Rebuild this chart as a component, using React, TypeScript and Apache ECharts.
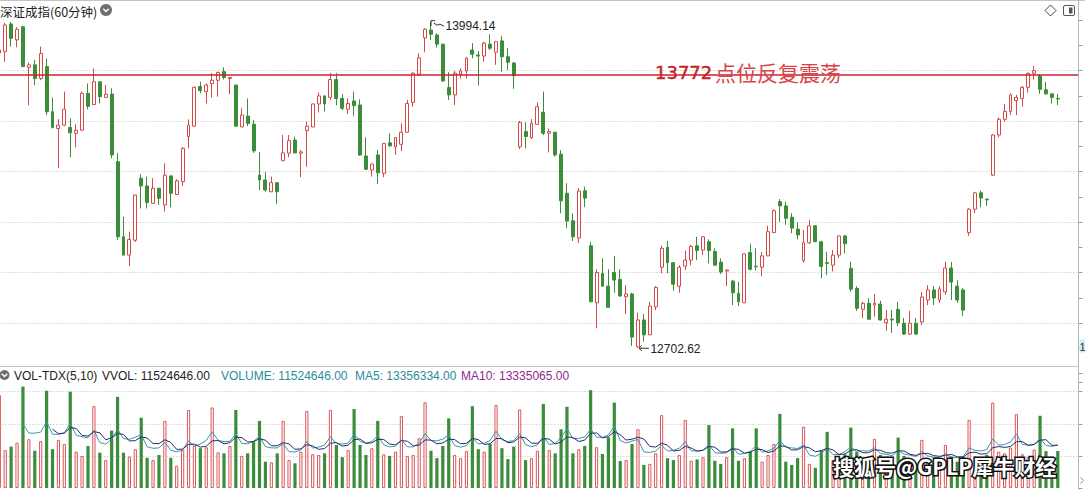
import { useEffect, useRef } from 'react';
import * as echarts from 'echarts';

// [open, close, low, high] per 60-minute bar
const ohlc: number[][] = [
  [13870, 13882, 13862, 13890], [13875, 13981, 13835, 13989], [13985, 13928, 13895, 13993], [13922, 13964, 13893, 13972],
  [13974, 13816, 13815, 13977], [13813, 13823, 13663, 13832], [13823, 13769, 13743, 13842], [13769, 13868, 13762, 13895],
  [13816, 13637, 13624, 13848], [13637, 13575, 13571, 13693], [13571, 13584, 13413, 13608], [13584, 13647, 13580, 13717],
  [13575, 13554, 13457, 13611], [13552, 13564, 13496, 13588], [13564, 13710, 13562, 13717], [13710, 13659, 13647, 13749],
  [13666, 13756, 13663, 13809], [13756, 13697, 13670, 13757], [13694, 13707, 13693, 13743], [13707, 13466, 13453, 13730],
  [13439, 13142, 13128, 13473], [13142, 13069, 13068, 13221], [13069, 13131, 13025, 13162], [13128, 13307, 13121, 13308],
  [13374, 13343, 13254, 13390], [13343, 13277, 13254, 13380], [13274, 13334, 13273, 13374], [13334, 13294, 13268, 13335],
  [13268, 13386, 13241, 13433], [13383, 13314, 13258, 13384], [13309, 13363, 13308, 13370], [13360, 13492, 13343, 13498],
  [13539, 13584, 13492, 13607], [13580, 13734, 13579, 13737], [13737, 13721, 13710, 13756], [13717, 13743, 13670, 13749],
  [13749, 13762, 13694, 13790], [13762, 13793, 13697, 13796], [13796, 13773, 13765, 13813], [13769, 13773, 13707, 13775],
  [13743, 13580, 13579, 13744], [13577, 13624, 13576, 13651], [13620, 13591, 13580, 13690], [13588, 13482, 13474, 13604],
  [13386, 13367, 13327, 13478], [13367, 13327, 13320, 13399], [13320, 13356, 13319, 13380], [13356, 13320, 13272, 13357],
  [13443, 13474, 13442, 13545], [13473, 13523, 13457, 13545], [13525, 13474, 13473, 13539], [13473, 13478, 13378, 13485],
  [13562, 13580, 13419, 13598], [13577, 13668, 13576, 13669], [13668, 13700, 13634, 13713], [13700, 13668, 13638, 13701],
  [13694, 13765, 13684, 13790], [13765, 13690, 13663, 13790], [13690, 13651, 13644, 13707], [13647, 13670, 13628, 13690],
  [13680, 13661, 13621, 13717], [13664, 13466, 13462, 13686], [13462, 13409, 13406, 13536], [13406, 13430, 13380, 13431],
  [13466, 13395, 13351, 13485], [13393, 13512, 13378, 13513], [13514, 13502, 13498, 13552], [13498, 13535, 13466, 13537],
  [13508, 13556, 13481, 13591], [13556, 13670, 13555, 13684], [13674, 13790, 13657, 13794], [13786, 13851, 13780, 13869],
  [13930, 13964, 13873, 13968], [13961, 13944, 13921, 13994.14], [13941, 13905, 13891, 13948], [13905, 13759, 13756, 13906],
  [13733, 13704, 13684, 13794], [13704, 13790, 13664, 13799], [13786, 13799, 13769, 13810], [13799, 13849, 13769, 13855],
  [13882, 13865, 13849, 13909], [13862, 13858, 13741, 13878], [13858, 13909, 13835, 13915], [13905, 13889, 13882, 13944],
  [13873, 13915, 13823, 13918], [13918, 13855, 13796, 13938], [13855, 13833, 13803, 13889], [13830, 13780, 13728, 13835],
  [13498, 13595, 13489, 13601], [13559, 13539, 13492, 13595], [13534, 13591, 13529, 13608], [13587, 13657, 13586, 13674],
  [13635, 13552, 13545, 13717], [13552, 13559, 13476, 13571], [13556, 13466, 13459, 13557], [13469, 13284, 13235, 13485],
  [13314, 13204, 13176, 13354], [13205, 13142, 13125, 13235], [13137, 13323, 13117, 13334], [13324, 13295, 13259, 13340],
  [13106, 12884, 12883, 13122], [12880, 13000, 12779, 13013], [12997, 12946, 12945, 13056], [12946, 12862, 12861, 13013],
  [13000, 12970, 12920, 13066], [12973, 12907, 12904, 13013], [12904, 12915, 12836, 12950], [12915, 12744, 12709, 12920],
  [12706, 12812, 12702.62, 12841], [12812, 12753, 12726, 12836], [12753, 12867, 12752, 12884], [12864, 12941, 12851, 12946],
  [13021, 13096, 12997, 13106], [13100, 13039, 12997, 13126], [13039, 12954, 12928, 13040], [12946, 13021, 12920, 13029],
  [13025, 13049, 13010, 13087], [13049, 13103, 13029, 13110], [13106, 13087, 13049, 13142], [13089, 13142, 13069, 13144],
  [13122, 13087, 13036, 13131], [13083, 13029, 13028, 13096], [13041, 13002, 12994, 13056], [13006, 13010, 12946, 13011],
  [12966, 12920, 12871, 12970], [12918, 12884, 12867, 12964], [12880, 13074, 12879, 13075], [13079, 13013, 13008, 13114],
  [13025, 13023, 13008, 13096], [13021, 13066, 12986, 13081], [13066, 13162, 13065, 13185], [13158, 13245, 13157, 13251],
  [13281, 13264, 13201, 13291], [13264, 13215, 13189, 13281], [13219, 13176, 13156, 13235], [13172, 13149, 13131, 13198],
  [13047, 13118, 13039, 13169], [13118, 13185, 13113, 13208], [13185, 13122, 13121, 13188], [13122, 13024, 12977, 13126],
  [13039, 13036, 12990, 13083], [13029, 13069, 13004, 13089], [13069, 13145, 13057, 13146], [13145, 13114, 13076, 13149],
  [13017, 12934, 12924, 13043], [12937, 12858, 12848, 12946], [12854, 12878, 12819, 12884], [12878, 12815, 12812, 12898],
  [12871, 12878, 12825, 12915], [12875, 12812, 12809, 12888], [12801, 12815, 12769, 12851], [12815, 12812, 12761, 12851],
  [12854, 12801, 12788, 12884], [12799, 12756, 12752, 12820], [12756, 12799, 12752, 12848], [12799, 12756, 12752, 12820],
  [12804, 12903, 12792, 12923], [12891, 12931, 12871, 12950], [12931, 12899, 12871, 12946], [12891, 12935, 12879, 12946],
  [12923, 13018, 12911, 13042], [13018, 12962, 12891, 13042], [12946, 12891, 12879, 12970], [12931, 12851, 12828, 12939],
  [13158, 13251, 13145, 13255], [13251, 13316, 13235, 13320], [13316, 13295, 13259, 13324], [13291, 13288, 13264, 13292],
  [13386, 13545, 13382, 13549], [13545, 13607, 13536, 13615], [13607, 13638, 13598, 13668], [13638, 13704, 13624, 13710],
  [13681, 13694, 13624, 13704], [13690, 13734, 13657, 13740], [13734, 13790, 13713, 13792], [13790, 13800, 13765, 13819],
  [13779, 13726, 13708, 13787], [13724, 13708, 13704, 13756], [13708, 13694, 13670, 13709], [13690, 13688, 13664, 13708],
];

// volume per bar, in millions
const volumeMillions: number[] = [
  29.0, 11.8, 12.9, 14.1, 31.6, 15.2, 11.6, 14.6, 30.3, 12.1, 15.0, 13.7, 30.0, 11.3, 10.0, 13.1,
  25.5, 11.0, 8.7, 17.9, 28.4, 11.0, 9.8, 12.1, 21.9, 9.4, 8.7, 10.3, 20.9, 9.4, 6.9, 11.8,
  24.3, 13.1, 12.4, 12.7, 25.1, 11.1, 10.8, 13.1, 24.3, 10.0, 10.8, 14.6, 20.9, 8.2, 8.0, 10.8,
  20.9, 8.7, 7.7, 11.3, 24.0, 10.5, 10.3, 10.8, 24.3, 13.4, 9.6, 11.8, 24.6, 13.4, 10.3, 12.4,
  20.9, 10.5, 10.0, 11.3, 22.4, 10.0, 10.3, 15.5, 26.7, 11.6, 9.3, 13.1, 21.7, 10.3, 9.3, 11.5,
  25.5, 12.1, 11.3, 13.7, 25.9, 12.4, 9.0, 12.9, 24.5, 8.7, 9.3, 11.6, 26.2, 11.8, 10.8, 18.3,
  25.3, 10.8, 12.1, 13.1, 30.5, 12.7, 10.6, 15.8, 26.6, 8.4, 8.7, 13.7, 18.3, 7.2, 7.5, 10.8,
  22.7, 9.3, 8.7, 10.3, 21.2, 8.5, 8.9, 9.6, 19.6, 8.5, 7.5, 9.6, 18.6, 8.5, 9.3, 11.3,
  18.6, 8.2, 10.3, 13.7, 23.1, 8.2, 7.2, 9.3, 19.1, 7.5, 6.3, 11.8, 17.5, 8.7, 8.2, 10.5,
  18.8, 11.3, 9.3, 7.7, 15.3, 10.3, 9.8, 7.2, 15.7, 10.0, 8.5, 7.7, 15.0, 8.7, 8.2, 7.7,
  13.4, 9.8, 8.2, 9.8, 21.2, 9.8, 8.7, 10.3, 26.6, 11.3, 10.8, 12.6, 23.0, 10.5, 9.63, 12.0,
  22.5, 11.5, 9.3, 11.524646,
];

const blankSlots = 3;
const categories = Array.from({ length: ohlc.length + blankSlots }, (_, i) => String(i + 1));

const titleText = '深证成指(60分钟)';
const resistanceLevel = 13782;
const resistanceText = ['13772', '点位反复震荡'];
const highIndex = 73;
const highValue = 13994.14;
const lowIndex = 108;
const lowValue = 12702.62;
const volHeaderItems = [
  { text: 'VOL-TDX(5,10)', x: 14, color: '#222222' },
  { text: 'VVOL: 11524646.00', x: 102, color: '#222222' },
  { text: 'VOLUME: 11524646.00', x: 221, color: '#2b8c9c' },
  { text: 'MA5: 13356334.00', x: 355, color: '#2b8c9c' },
  { text: 'MA10: 13335065.00', x: 461, color: '#8c2a8c' },
];
const watermarkText = '搜狐号@GPLP犀牛财经';

const UP = '#d24a4a';
const DOWN = '#3b8d3b';

function movingAverage(values: number[], n: number) {
  return values.map((_, i) => {
    if (i < n - 1) return '-';
    let s = 0;
    for (let j = i - n + 1; j <= i; j++) s += values[j];
    return +(s / n).toFixed(4);
  });
}

function chevron(cx: number, cy: number, r: number) {
  return [
    { type: 'circle', z: 100, shape: { cx, cy, r }, style: { fill: '#6e6e6e' } },
    {
      type: 'polyline', z: 101,
      shape: { points: [[cx - 2.8, cy - 1.2], [cx, cy + 1.6], [cx + 2.8, cy - 1.2]] },
      style: { stroke: '#ffffff', lineWidth: 1.4, fill: 'none' },
    },
  ];
}

export default function App() {
  const ref = useRef<HTMLDivElement>(null);

  useEffect(() => {
    const el = ref.current;
    if (!el) return;
    const chart = echarts.init(el, null, { renderer: 'svg' });

    const volData = volumeMillions.map((v, i) => {
      const up = ohlc[i][1] >= ohlc[i][0];
      return {
        value: v,
        itemStyle: up
          ? { color: '#ffffff', borderColor: '#d9585a', borderWidth: 1 }
          : { color: DOWN, borderColor: DOWN, borderWidth: 0 },
      };
    });

    const gridLeft = -3.66;
    const gridRight = 6.5;

    const option: any = {
      animation: false,
      backgroundColor: '#ffffff',
      grid: [
        { left: gridLeft, right: gridRight, top: 20.19, height: 353.26, outerBoundsMode: 'none', containLabel: false },
        { left: gridLeft, right: gridRight, top: 382.1, height: 105.9, outerBoundsMode: 'none', containLabel: false },
      ],
      xAxis: [0, 1].map((g) => ({
        type: 'category',
        gridIndex: g,
        data: categories,
        boundaryGap: true,
        axisLine: { show: false },
        axisTick: { show: false },
        axisLabel: { show: false },
        splitLine: { show: false },
      })),
      yAxis: [
        {
          type: 'value', gridIndex: 0, position: 'right',
          min: 12600, max: 14000, interval: 200,
          axisLine: { show: false },
          axisTick: { show: true, inside: false, length: 4, lineStyle: { color: '#9a9a9a' } },
          minorTick: { show: true, splitNumber: 2, length: 4, lineStyle: { color: '#9a9a9a' } },
          axisLabel: { show: false },
          splitLine: {
            show: true, showMinLine: false, showMaxLine: false,
            lineStyle: { color: '#c2c2c2', type: [1, 2], width: 1 },
          },
        },
        {
          type: 'value', gridIndex: 1, position: 'right',
          min: 0, max: 33, interval: 10,
          axisLine: { show: false },
          axisTick: { show: true, inside: false, length: 4, lineStyle: { color: '#9a9a9a' } },
          axisLabel: { show: false },
          splitLine: {
            show: true, showMinLine: false, showMaxLine: false,
            lineStyle: { color: '#c2c2c2', type: [1, 2], width: 1 },
          },
        },
      ],
      series: [
        {
          type: 'candlestick',
          xAxisIndex: 0, yAxisIndex: 0,
          data: ohlc,
          barWidth: 3.4,
          itemStyle: {
            color: '#ffffff', color0: DOWN,
            borderColor: UP, borderColor0: DOWN, borderWidth: 1,
          },
          markLine: {
            silent: true,
            symbol: ['none', 'none'],
            label: { show: false },
            lineStyle: { color: '#c3262c', width: 1.5, type: 'solid' },
            data: [{ yAxis: resistanceLevel }],
          },
        },
        {
          type: 'bar',
          xAxisIndex: 1, yAxisIndex: 1,
          data: volData,
          barWidth: 3.2,
        },
        {
          type: 'line', name: 'MA5',
          xAxisIndex: 1, yAxisIndex: 1,
          data: movingAverage(volumeMillions, 5),
          symbol: 'none',
          lineStyle: { color: '#3a97a6', width: 1 },
          z: 5,
        },
        {
          type: 'line', name: 'MA10',
          xAxisIndex: 1, yAxisIndex: 1,
          data: movingAverage(volumeMillions, 10),
          symbol: 'none',
          lineStyle: { color: '#2b2a6a', width: 1 },
          z: 5,
        },
      ],
    };

    chart.setOption(option);

    const hp = chart.convertToPixel({ gridIndex: 0 }, [highIndex, highValue]) as number[];
    const lp = chart.convertToPixel({ gridIndex: 0 }, [lowIndex, lowValue]) as number[];
    const ry = chart.convertToPixel({ gridIndex: 0 }, [0, resistanceLevel]) as number[];

    const textFont = '"Liberation Sans", Arial, sans-serif';
    const cjkFont = '"Noto Sans CJK SC", "Noto Sans", sans-serif';

    const graphic: any[] = [
      // frame lines
      { type: 'line', z: 90, shape: { x1: 0, y1: 0.5, x2: 1085, y2: 0.5 }, style: { stroke: '#c4c4c4', lineWidth: 1 } },
      { type: 'line', z: 90, shape: { x1: 0, y1: 366.5, x2: 1078.5, y2: 366.5 }, style: { stroke: '#c4c4c4', lineWidth: 1 } },
      { type: 'line', z: 90, shape: { x1: 1078.5, y1: 0, x2: 1078.5, y2: 490 }, style: { stroke: '#b8b8b8', lineWidth: 1 } },
      // title
      {
        type: 'text', z: 100,
        style: { text: titleText, x: 0, y: 11, verticalAlign: 'middle', fontSize: 12.5, fontFamily: cjkFont, fill: '#222222' },
      },
      ...chevron(106, 10, 6),
      // top right icons
      {
        type: 'polygon', z: 100,
        shape: { points: [[1050.5, 5], [1056, 10.5], [1050.5, 16], [1045, 10.5]] },
        style: { stroke: '#444444', fill: 'none', lineWidth: 1 },
      },
      {
        type: 'rect', z: 100,
        shape: { x: 1063.5, y: 5.5, width: 11, height: 10, r: 1.5 },
        style: { stroke: '#555555', fill: 'none', lineWidth: 1 },
      },
      { type: 'rect', z: 100, shape: { x: 1069, y: 7.5, width: 3.5, height: 6 }, style: { fill: '#555555' } },
      // resistance annotation
      {
        type: 'text', z: 100,
        style: {
          text: resistanceText[0], x: 655, y: ry[1] - 3, verticalAlign: 'middle',
          fontSize: 18, fontFamily: '"DejaVu Sans", sans-serif', fill: '#c41f26',
          stroke: '#c41f26', lineWidth: 0.4,
        },
      },
      {
        type: 'text', z: 100,
        style: {
          text: resistanceText[1], x: 715, y: ry[1] - 3, verticalAlign: 'middle',
          fontSize: 21, fontFamily: cjkFont, fill: '#d8444a',
        },
      },
      // high marker
      {
        type: 'polyline', z: 100,
        shape: { points: [[hp[0] + 4, hp[1] - 1], [hp[0], hp[1] - 1], [hp[0], hp[1] + 4.5]] },
        style: { stroke: '#333333', lineWidth: 1, fill: 'none' },
      },
      {
        type: 'polyline', z: 100,
        shape: { points: [[hp[0] + 3, hp[1] + 1.5], [hp[0] + 6, hp[1] + 3.5], [hp[0] + 9, hp[1] + 2.5], [hp[0] + 13, hp[1] + 4.5]] },
        style: { stroke: '#333333', lineWidth: 1, fill: 'none' },
      },
      {
        type: 'text', z: 100,
        style: { text: highValue.toFixed(2), x: hp[0] + 14.5, y: hp[1] + 4.5, verticalAlign: 'middle', fontSize: 12, fontFamily: textFont, fill: '#222222' },
      },
      // low marker
      {
        type: 'polyline', z: 100,
        shape: { points: [[lp[0] + 4, lp[1] - 2], [lp[0] + 1, lp[1] + 0.7], [lp[0] + 4, lp[1] + 3.4]] },
        style: { stroke: '#333333', lineWidth: 1, fill: 'none' },
      },
      {
        type: 'line', z: 100,
        shape: { x1: lp[0] + 1, y1: lp[1] + 0.7, x2: lp[0] + 11, y2: lp[1] + 0.7 },
        style: { stroke: '#333333', lineWidth: 1 },
      },
      {
        type: 'text', z: 100,
        style: { text: lowValue.toFixed(2), x: lp[0] + 12.5, y: lp[1] + 1.5, verticalAlign: 'middle', fontSize: 12, fontFamily: textFont, fill: '#222222' },
      },
      // volume header
      ...chevron(4.5, 375, 5),
      ...volHeaderItems.map((it) => ({
        type: 'text', z: 100,
        style: { text: it.text, x: it.x, y: 375.5, verticalAlign: 'middle', fontSize: 12, fontFamily: textFont, fill: it.color },
      })),
      // right edge bits
      { type: 'rect', z: 100, shape: { x: 1079.5, y: 339.5, width: 6, height: 13 }, style: { fill: '#cdeef2' } },
      {
        type: 'text', z: 101,
        style: { text: '1', x: 1079.5, y: 346.5, verticalAlign: 'middle', fontSize: 11, fontFamily: textFont, fill: '#333333' },
      },
      {
        type: 'polyline', z: 100,
        shape: { points: [[1080.5, 477.5], [1083.5, 480.5], [1080.5, 483.5]] },
        style: { stroke: '#8a8a8a', lineWidth: 1, fill: 'none' },
      },
      // watermark
      {
        type: 'text', z: 200,
        style: {
          text: watermarkText, x: 833, y: 466, verticalAlign: 'middle',
          fontSize: 21, fontWeight: 'bold', fontFamily: cjkFont,
          fill: '#ffffff', stroke: '#111111', lineWidth: 3,
        },
      },
    ];

    chart.setOption({ graphic });

    return () => {
      chart.dispose();
    };
  }, []);

  return (
    <div
      ref={ref}
      style={{ position: 'fixed', left: 0, top: 0, width: 1085, height: 490, background: '#ffffff' }}
    />
  );
}
